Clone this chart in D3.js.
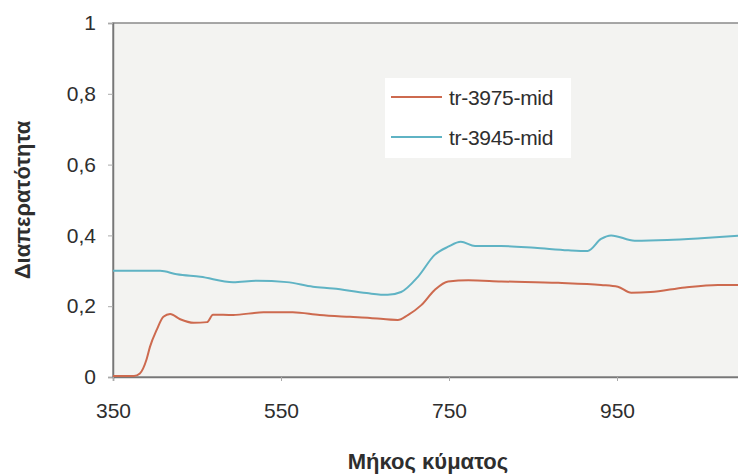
<!DOCTYPE html>
<html>
<head>
<meta charset="utf-8">
<script src="https://cdn.jsdelivr.net/npm/d3@7"></script>
<style>
  body { margin: 0; background: #fff; }
  text { font-family: "Liberation Sans", Arial, sans-serif; }
</style>
</head>
<body>
<div id="chart"></div>
<script>
// tr-3975-mid
const redWl = [350, 375, 382, 390, 394, 402, 410, 418, 430, 446, 462, 469, 493, 529, 564, 596, 632, 656, 689, 701, 717, 733, 749, 773, 812, 880, 931, 951, 967, 990, 1031, 1070, 1100];
const redT = [0.003, 0.003, 0.01, 0.05, 0.085, 0.133, 0.17, 0.178, 0.163, 0.153, 0.155, 0.176, 0.175, 0.183, 0.183, 0.175, 0.17, 0.167, 0.161, 0.175, 0.203, 0.246, 0.27, 0.273, 0.27, 0.266, 0.26, 0.255, 0.238, 0.24, 0.253, 0.26, 0.26];
// tr-3945-mid
const blueWl = [350, 406, 426, 454, 493, 521, 557, 588, 612, 652, 677, 693, 713, 733, 749, 764, 781, 812, 852, 892, 915, 931, 943, 971, 1010, 1050, 1100];
const blueT = [0.30, 0.30, 0.29, 0.283, 0.268, 0.272, 0.268, 0.255, 0.25, 0.237, 0.232, 0.24, 0.283, 0.345, 0.368, 0.382, 0.37, 0.37, 0.365, 0.358, 0.356, 0.39, 0.40, 0.385, 0.387, 0.392, 0.40];

const seriesNames = ['tr-3975-mid', 'tr-3945-mid'];
const seriesColors = ['#cd6a4f', '#5fb3c4'];
const xTicks = [350, 550, 750, 950];
const yTicks = [0, 0.2, 0.4, 0.6, 0.8, 1];

const width = 738;
const height = 474;
const margin = { top: 23, left: 113, bottom: 97 };
const plotH = height - margin.top - margin.bottom;

const svg = d3.select('#chart')
    .append('svg')
    .attr('width', width)
    .attr('height', height);

const x = d3.scaleLinear()
    .domain([350, 1100])
    .range([margin.left, margin.left + 630]);

const y = d3.scaleLinear()
    .domain([0, 1])
    .range([margin.top + plotH, margin.top]);

// plot area
svg.append('rect')
    .attr('x', x(350))
    .attr('y', y(1))
    .attr('width', x(1100) - x(350))
    .attr('height', y(0) - y(1))
    .attr('fill', '#f3f3f1')
    .attr('stroke', '#8a8a8a')
    .attr('stroke-width', 1.5);

const fmt = d => (d === 0 || d === 1) ? String(d) : d3.format('.1f')(d).replace('.', ',');

const yAxis = svg.append('g')
    .attr('transform', `translate(${margin.left}, 0)`)
    .call(d3.axisLeft(y).tickValues(yTicks).tickFormat(fmt).tickSize(5).tickPadding(12));

const xAxis = svg.append('g')
    .attr('transform', `translate(0, ${y(0)})`)
    .call(d3.axisBottom(x).tickValues(xTicks).tickFormat(d3.format('d')).tickSize(4).tickPadding(22));

[xAxis, yAxis].forEach(g => {
    g.select('.domain').attr('stroke', '#777').attr('stroke-width', 1.5);
    g.selectAll('.tick line').attr('stroke', '#aaa');
    g.selectAll('.tick text')
        .attr('fill', '#2e2e2e')
        .attr('font-size', '21px')
        .attr('font-family', '"Liberation Sans", Arial, sans-serif');
});

const line = d3.line()
    .x(d => x(d[0]))
    .y(d => y(d[1]))
    .curve(d3.curveMonotoneX);

const series = [
    d3.zip(redWl, redT),
    d3.zip(blueWl, blueT)
];

svg.append('g')
    .selectAll('path')
    .data(series)
    .join('path')
    .attr('d', line)
    .attr('fill', 'none')
    .attr('stroke', (d, i) => seriesColors[i])
    .attr('stroke-width', 2);

// legend
const legend = svg.append('g').attr('transform', 'translate(385, 78)');
legend.append('rect')
    .attr('width', 186)
    .attr('height', 80)
    .attr('fill', '#fff');
seriesNames.forEach((name, i) => {
    const ly = 19 + i * 40;
    legend.append('line')
        .attr('x1', 6).attr('x2', 57)
        .attr('y1', ly).attr('y2', ly)
        .attr('stroke', seriesColors[i])
        .attr('stroke-width', 2);
    legend.append('text')
        .attr('x', 64)
        .attr('y', ly + 8)
        .attr('font-size', '21px')
        .attr('letter-spacing', '-0.3px')
        .attr('fill', '#2e2e2e')
        .text(name);
});

// axis titles
svg.append('text')
    .attr('x', 428)
    .attr('y', 469)
    .attr('text-anchor', 'middle')
    .attr('font-size', '22px')
    .attr('font-weight', 'bold')
    .attr('fill', '#2e2e2e')
    .text('Μήκος κύματος');

svg.append('text')
    .attr('transform', 'translate(30, 200) rotate(-90)')
    .attr('text-anchor', 'middle')
    .attr('font-size', '22px')
    .attr('font-weight', 'bold')
    .attr('fill', '#2e2e2e')
    .text('Διαπερατότητα');
</script>
</body>
</html>
